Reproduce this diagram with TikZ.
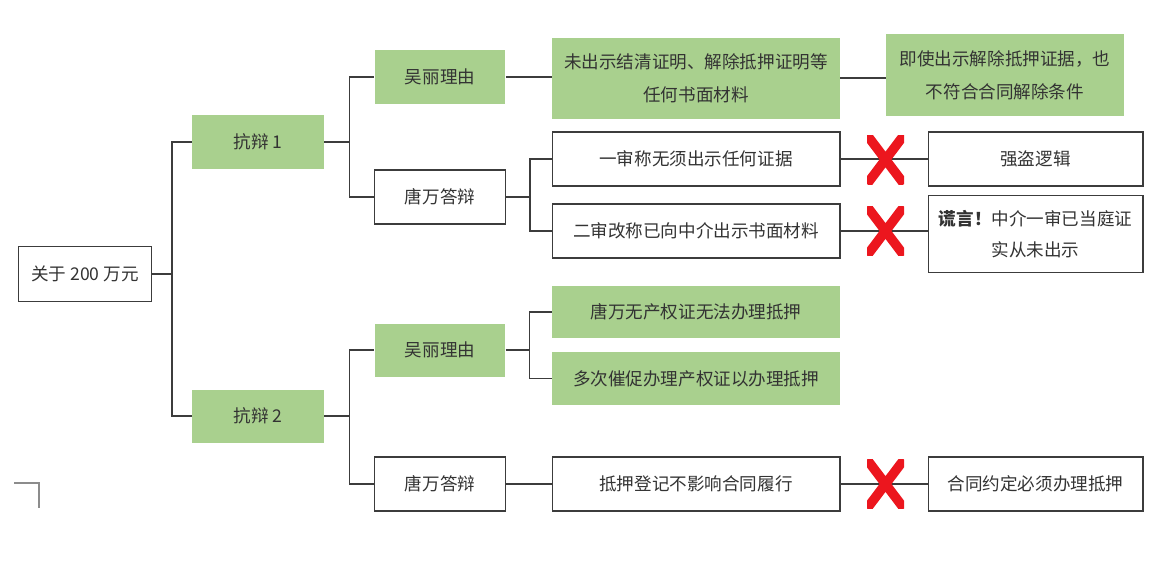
\documentclass[tikz,border=0pt]{standalone}
\usepackage{fontspec}
\setmainfont{Noto Sans CJK SC}
\definecolor{boxgreen}{RGB}{169,208,142}
\definecolor{linegray}{RGB}{60,60,60}
\definecolor{crossred}{RGB}{236,22,30}
\begin{document}
\begin{tikzpicture}[x=0.02cm,y=-0.02cm,
  base/.style={inner sep=0pt, align=center, text=black!80, font=\fontsize{10}{18}\selectfont},
  whitebox/.style={base, draw=linegray, line width=0.6pt, fill=white},
  greenbox/.style={base, fill=boxgreen},
  link/.style={draw=linegray, line width=0.7pt},
  crossmark/.style={minimum width=0.74cm, minimum height=0.98cm, inner sep=0pt,
    path picture={\draw[crossred, line width=0.19cm]
      (path picture bounding box.north west) -- (path picture bounding box.south east)
      (path picture bounding box.north east) -- (path picture bounding box.south west);}}]

\useasboundingbox (0,0) rectangle (1156,576);

\node (root) at (85,274)[whitebox, minimum width=2.66cm, minimum height=1.1cm]{关于 200 万元};

\node (kb1) at (258,142)[greenbox, minimum width=2.64cm, minimum height=1.08cm]{抗辩 1};
\node (kb2) at (258,416)[greenbox, minimum width=2.64cm, minimum height=1.06cm]{抗辩 2};

% first defence
\node (wl1) at (440,77)[greenbox, minimum width=2.62cm, minimum height=1.08cm]{吴丽理由};
\node (td1) at (440,197)[whitebox, minimum width=2.62cm, minimum height=1.08cm]{唐万答辩};

\node (noproof) at (696,78)[greenbox, minimum width=5.76cm, minimum height=1.62cm, font=\fontsize{10}{19}\selectfont]{未出示结清证明、解除抵押证明等\\任何书面材料};
\node (evenif) at (1005,75)[greenbox, minimum width=4.76cm, minimum height=1.64cm, font=\fontsize{10}{19}\selectfont]{即使出示解除抵押证据，也\\不符合合同解除条件};

\node (first) at (696,159)[whitebox, minimum width=5.76cm, minimum height=1.08cm]{一审称无须出示任何证据};
\node (robber) at (1035.5,159)[whitebox, minimum width=4.3cm, minimum height=1.08cm]{强盗逻辑};
\node (second) at (696,231)[whitebox, minimum width=5.76cm, minimum height=1.08cm]{二审改称已向中介出示书面材料};
\node (lie) at (1035.5,234)[whitebox, minimum width=4.3cm, minimum height=1.54cm]{\textbf{谎言！}中介一审已当庭证\\实从未出示};

% second defence
\node (wl2) at (440,350)[greenbox, minimum width=2.62cm, minimum height=1.06cm]{吴丽理由};
\node (td2) at (440,484)[whitebox, minimum width=2.62cm, minimum height=1.08cm]{唐万答辩};

\node (nocert) at (696,312)[greenbox, minimum width=5.76cm, minimum height=1.04cm]{唐万无产权证无法办理抵押};
\node (urge) at (696,378.5)[greenbox, minimum width=5.76cm, minimum height=1.06cm]{多次催促办理产权证以办理抵押};
\node (register) at (696,484)[whitebox, minimum width=5.76cm, minimum height=1.08cm]{抵押登记不影响合同履行};
\node (contract) at (1035.5,484)[whitebox, minimum width=4.3cm, minimum height=1.08cm]{合同约定必须办理抵押};

% connectors
\draw[link] (root.east) -- ++(20,0) |- (kb1.west);
\draw[link] (root.east) -- ++(20,0) |- (kb2.west);

\draw[link] (kb1.east) -- ++(25,0) |- (wl1.west);
\draw[link] (kb1.east) -- ++(25,0) |- (td1.west);
\draw[link] (kb2.east) -- ++(25,0) |- (wl2.west);
\draw[link] (kb2.east) -- ++(25,0) |- (td2.west);

\draw[link] (wl1.east) -- (noproof.west |- wl1.east);
\draw[link] (noproof.east) -- (evenif.west |- noproof.east);
\draw[link] (td1.east) -- ++(24,0) |- (first.west);
\draw[link] (td1.east) -- ++(24,0) |- (second.west);
\draw[link] (first.east) -- (robber.west);
\draw[link] (second.east) -- (lie.west |- second.east);

\draw[link] (wl2.east) -- ++(24,0) |- (nocert.west);
\draw[link] (wl2.east) -- ++(24,0) |- (urge.west);
\draw[link] (td2.east) -- (register.west);
\draw[link] (register.east) -- (contract.west);

% red crosses
\node (x1) at (885.5,159.5)[crossmark]{};
\node (x2) at (885.5,231)[crossmark]{};
\node (x3) at (885.5,484)[crossmark]{};

% corner mark
\draw[black!45, line width=0.6pt] (14,483) -- (39,483) -- (39,508);

\end{tikzpicture}
\end{document}
